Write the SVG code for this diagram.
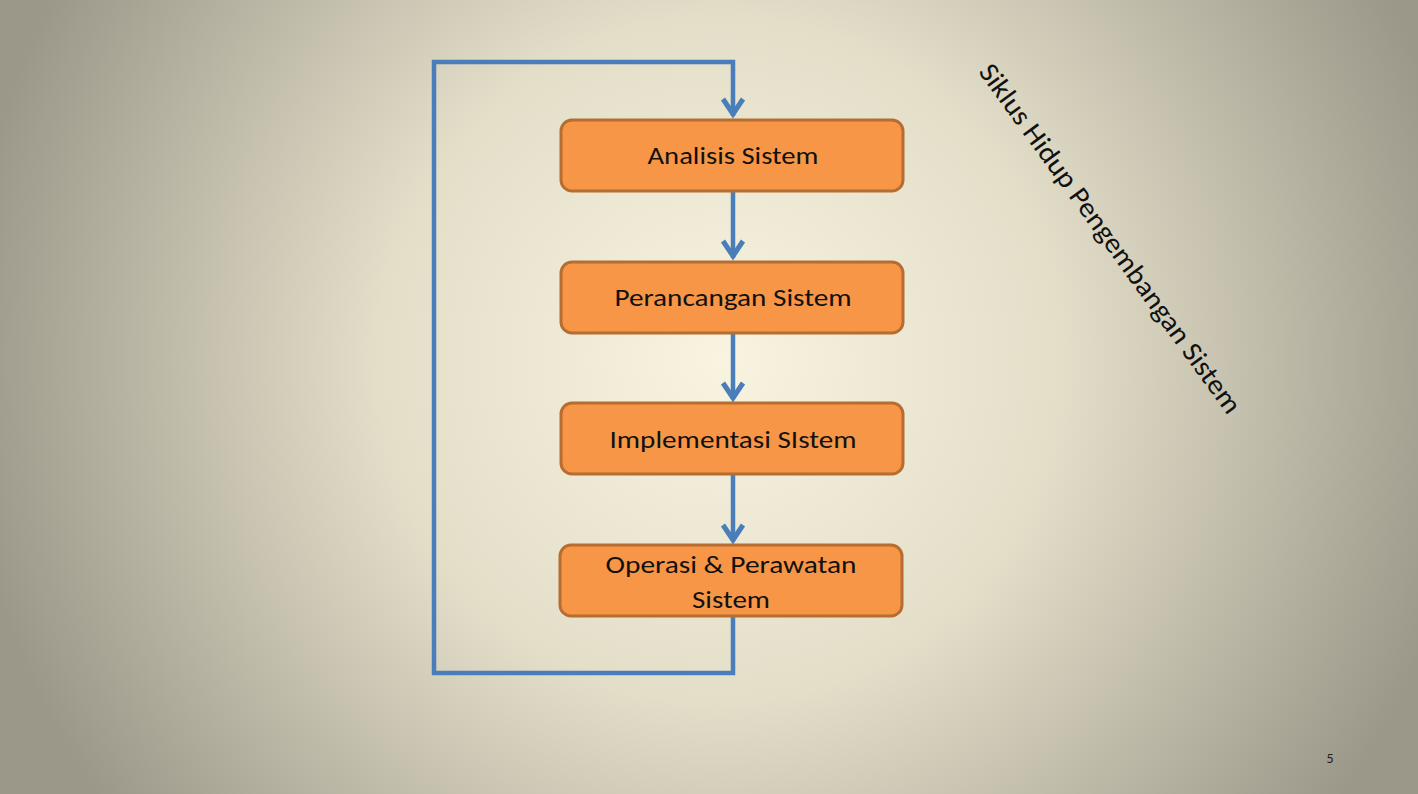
<svg xmlns="http://www.w3.org/2000/svg" width="1418" height="794" viewBox="0 0 1418 794">
  <defs>
    <radialGradient id="bg" gradientUnits="userSpaceOnUse" cx="720" cy="360" r="760">
      <stop offset="0" stop-color="#f9f4e0"/>
      <stop offset="0.45" stop-color="#e3dec8"/>
      <stop offset="1" stop-color="#9b988a"/>
    </radialGradient>
    <style>
      .box { fill: #f79646; stroke: #b66d31; stroke-width: 3; }
      .lbl { font-family: Carlito, Calibri, "Open Sans", "Noto Sans", sans-serif; font-size: 24px; fill: #111; text-anchor: middle; }
      .wire { fill: none; stroke: #4a7ebb; stroke-width: 4.5; stroke-linejoin: miter; }
      .head { fill: none; stroke: #4a7ebb; stroke-width: 5; stroke-linejoin: miter; stroke-linecap: butt; }
    </style>
  </defs>
  <rect width="1418" height="794" fill="url(#bg)"/>

  <g id="connectors">
    <polyline class="wire" points="733,616 733,673 434,673 434,62 733,62 733,116"/>
    <polyline class="head" points="723,99 733,114 743,99"/>
    <line class="wire" x1="733" y1="191" x2="733" y2="258"/>
    <polyline class="head" points="723,241 733,256 743,241"/>
    <line class="wire" x1="733" y1="333" x2="733" y2="399"/>
    <polyline class="head" points="723,383 733,398 743,383"/>
    <line class="wire" x1="733" y1="474" x2="733" y2="541"/>
    <polyline class="head" points="723,525 733,540 743,525"/>
  </g>

  <g id="analisis">
    <rect class="box" x="561" y="120" width="342" height="71" rx="11"/>
    <text class="lbl" x="733" y="164" textLength="171" lengthAdjust="spacingAndGlyphs">Analisis Sistem</text>
  </g>
  <g id="perancangan">
    <rect class="box" x="561" y="262" width="342" height="71" rx="11"/>
    <text class="lbl" x="733" y="306" textLength="237" lengthAdjust="spacingAndGlyphs">Perancangan Sistem</text>
  </g>
  <g id="implementasi">
    <rect class="box" x="561" y="403" width="342" height="71" rx="11"/>
    <text class="lbl" x="733" y="448" textLength="247" lengthAdjust="spacingAndGlyphs">Implementasi SIstem</text>
  </g>
  <g id="operasi">
    <rect class="box" x="560" y="545" width="342" height="71" rx="11"/>
    <text class="lbl" x="731" y="573" textLength="251" lengthAdjust="spacingAndGlyphs">Operasi &amp; Perawatan</text>
    <text class="lbl" x="731" y="608" textLength="78" lengthAdjust="spacingAndGlyphs">Sistem</text>
  </g>

  <g id="title">
    <text transform="translate(978,72) rotate(54)" font-family="Carlito, Calibri, 'Open Sans', 'Noto Sans', sans-serif" font-size="28" fill="#111" textLength="425" lengthAdjust="spacingAndGlyphs">Siklus Hidup Pengembangan Sistem</text>
  </g>

  <g id="page-number">
    <text x="1330" y="763" font-family="Carlito, Calibri, 'Open Sans', sans-serif" font-size="14" fill="#222" text-anchor="middle">5</text>
  </g>
</svg>
